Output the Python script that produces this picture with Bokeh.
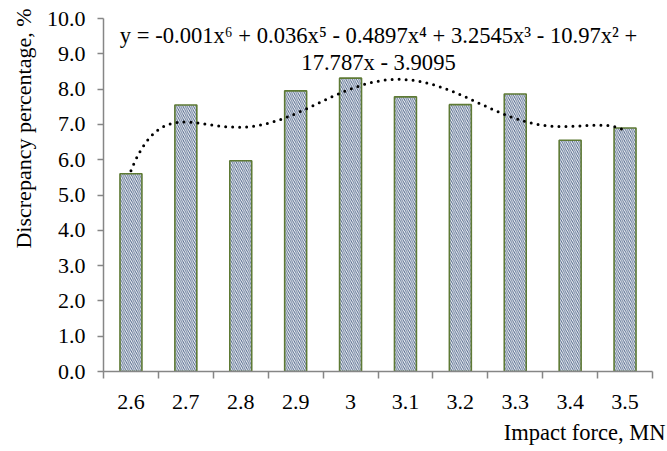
import numpy as np
from bokeh.plotting import figure
from bokeh.models import FixedTicker, Label, NumeralTickFormatter, Range1d, Title
from bokeh.embed import file_html
from bokeh.resources import INLINE

# ---- data ----
impact_force = ["2.6", "2.7", "2.8", "2.9", "3", "3.1", "3.2", "3.3", "3.4", "3.5"]
discrepancy = [5.6, 7.55, 5.97, 7.95, 8.31, 7.78, 7.56, 7.86, 6.55, 6.9]
y_ticks = [0, 1, 2, 3, 4, 5, 6, 7, 8, 9, 10]
equation_line1 = "y = -0.001x\u2076 + 0.036x\u2075 - 0.4897x\u2074 + 3.2545x\u00b3 - 10.97x\u00b2 +"
equation_line2 = "17.787x - 3.9095"
x_title = "Impact force, MN"
y_title = "Discrepancy percentage, %"

FONT = "Liberation Serif"
AXIS_COLOR = "#868686"

n = len(impact_force)
positions = np.arange(1, n + 1)
boundaries = list(np.arange(0.5, n + 1, 1.0))

p = figure(width=667, height=451, x_range=Range1d(0.5, n + 0.5), y_range=Range1d(0, 10),
           output_backend="svg", toolbar_location=None,
           min_border_left=101, min_border_right=15, min_border_top=18, min_border_bottom=80)
p.outline_line_color = None
p.xgrid.visible = False
p.ygrid.visible = False
p.background_fill_color = "white"
p.border_fill_color = "white"

# bars
p.vbar(x=positions, top=discrepancy, width=0.4, bottom=0,
       fill_color="white", line_color="#5E7A34", line_width=1.6,
       hatch_pattern="\\", hatch_color="#52688C", hatch_scale=4.2, hatch_weight=1.0)

# polynomial trendline (order 6), fitted like a spreadsheet trendline
coeffs = np.polyfit(positions, discrepancy, 6)
xs = np.linspace(1, n, 300)
p.line(xs, np.polyval(coeffs, xs), line_color="black", line_width=3,
       line_dash="0 7", line_cap="round")

# y axis
ya = p.yaxis[0]
ya.ticker = FixedTicker(ticks=y_ticks)
ya.formatter = NumeralTickFormatter(format="0.0")
ya.axis_line_color = AXIS_COLOR
ya.axis_line_width = 1.5
ya.major_tick_line_color = AXIS_COLOR
ya.major_tick_line_width = 1.5
ya.major_tick_out = 6
ya.major_tick_in = 0
ya.minor_tick_line_color = None
ya.major_label_text_font = FONT
ya.major_label_text_font_size = "22px"
ya.major_label_text_font_style = "normal"
ya.major_label_text_color = "black"
ya.major_label_standoff = 12

# x axis
xa = p.xaxis[0]
xa.ticker = FixedTicker(ticks=list(positions), minor_ticks=boundaries)
xa.major_label_overrides = {int(i): lab for i, lab in zip(positions, impact_force)}
xa.axis_line_color = AXIS_COLOR
xa.axis_line_width = 1.5
xa.major_tick_line_color = None
xa.major_tick_out = 0
xa.major_tick_in = 0
xa.minor_tick_line_color = AXIS_COLOR
xa.minor_tick_line_width = 1.5
xa.minor_tick_out = 7
xa.minor_tick_in = 0
xa.major_label_text_font = FONT
xa.major_label_text_font_size = "22px"
xa.major_label_text_font_style = "normal"
xa.major_label_text_color = "black"
xa.major_label_standoff = 16

# axis titles as side titles (not clipped by the frame)
p.add_layout(Title(text=x_title, align="right", offset=-13, standoff=13,
                   text_font=FONT, text_font_size="22.5px", text_font_style="normal",
                   text_color="black"), "below")
p.add_layout(Title(text=y_title, align="right", offset=-10, standoff=16,
                   text_font=FONT, text_font_size="22px", text_font_style="normal",
                   text_color="black"), "left")

# trendline equation
p.add_layout(Label(x=5.51, y=9.52, text=equation_line1, text_align="center", text_baseline="alphabetic",
                   text_font=FONT, text_font_size="22.6px", text_color="black"))
p.add_layout(Label(x=5.51, y=8.755, text=equation_line2, text_align="center", text_baseline="alphabetic",
                   text_font=FONT, text_font_size="22.6px", text_color="black"))

open("out.html", "w").write(file_html(p, INLINE))
